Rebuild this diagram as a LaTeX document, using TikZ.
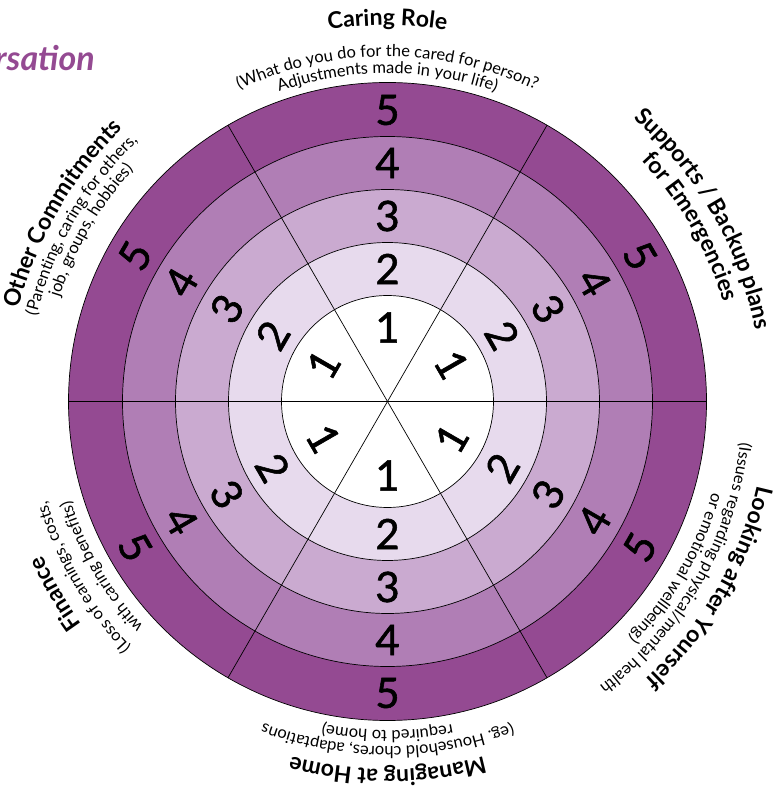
\documentclass[tikz,border=0pt]{standalone}
\usepackage{fontspec}
\setmainfont{Lato}
\newfontface\numface{Lato}[FakeBold=1.3]
\usetikzlibrary{decorations.text}
\definecolor{cfive}{RGB}{148,74,146}
\definecolor{cfour}{RGB}{176,126,181}
\definecolor{cthree}{RGB}{202,170,208}
\definecolor{ctwo}{RGB}{231,218,237}
\newcommand\ttlfont{\fontsize{23}{25}\selectfont\bfseries}
\newcommand\subfont{\fontsize{16.5}{18}\selectfont}
\newcommand\numfont{\numface\fontsize{42}{44}\selectfont}
\newcommand\arclabel[4]{%
  \path[decorate, decoration={text along path, text align=center, text={|#3|#4}}]
    (#1+80:#2pt) arc[start angle=#1+80, end angle=#1-80, radius=#2pt];}
\tikzset{
  ringline/.style={draw=black, line width=0.7pt},
  num/.style={font=\numfont, inner sep=0pt},
}
\begin{document}
\begin{tikzpicture}[x=1pt,y=1pt]
\useasboundingbox (0,0) rectangle (774,796);
\node[font=\fontsize{34}{36}\selectfont\bfseries\itshape, text=cfive, anchor=base east, inner sep=0pt] (conv) at (95,725) {rsation};
\begin{scope}[shift={(387.5,394.5)}]
  \fill[cfive] (0,0) circle[radius=319pt];
  \fill[cfour] (0,0) circle[radius=265pt];
  \fill[cthree] (0,0) circle[radius=212pt];
  \fill[ctwo] (0,0) circle[radius=159pt];
  \fill[white] (0,0) circle[radius=106pt];
  \foreach \r in {106,159,212,265,319} {\draw[ringline] (0,0) circle[radius=\r pt];}
  \coordinate (c) at (0,0);
  \foreach \a in {0,60,120} {
    \draw[ringline] (\a:319pt) -- (\a+180:319pt);
  }
  \foreach \a/\rot in {90/0, 30/-60, 150/60, 210/-60, 270/0, 330/60} {
    \foreach \k/\r in {1/74, 2/132.5, 3/185.5, 4/238.5, 5/291.5} {
      \node[num, rotate=\rot] (n\a-\k) at (\a:\r pt) {\k};
    }
  }
  % Caring Role
  \arclabel{90}{376}{\ttlfont}{Caring Role}
  \arclabel{90}{345}{\subfont}{(What do you do for the cared for person?}
  \arclabel{90}{328}{\subfont}{Adjustments made in your life)}
  % Supports
  \arclabel{30}{375}{\ttlfont}{Supports / Backup plans}
  \arclabel{30}{350}{\ttlfont}{for Emergencies}
  % Other commitments
  \arclabel{150}{380}{\ttlfont}{Other Commitments}
  \arclabel{150}{361}{\subfont}{(Parenting, caring for others,}
  \arclabel{150}{344}{\subfont}{job, groups, hobbies)}
  % Finance
  \arclabel{210}{378}{\ttlfont}{Finance}
  \arclabel{210}{355}{\subfont}{(Loss of earnings, costs,}
  \arclabel{210}{332}{\subfont}{with caring benefits)}
  % Managing at Home
  \arclabel{270}{368}{\ttlfont}{Managing at Home}
  \arclabel{270}{345}{\subfont}{(eg. Household chores, adaptations}
  \arclabel{270}{329}{\subfont}{required to home)}
  % Looking after yourself
  \arclabel{330}{379}{\ttlfont}{Looking after Yourself}
  \arclabel{330}{355}{\subfont}{(Issues regarding physical/mental health}
  \arclabel{330}{337}{\subfont}{or emotional wellbeing)}
\end{scope}
\end{tikzpicture}
\end{document}
